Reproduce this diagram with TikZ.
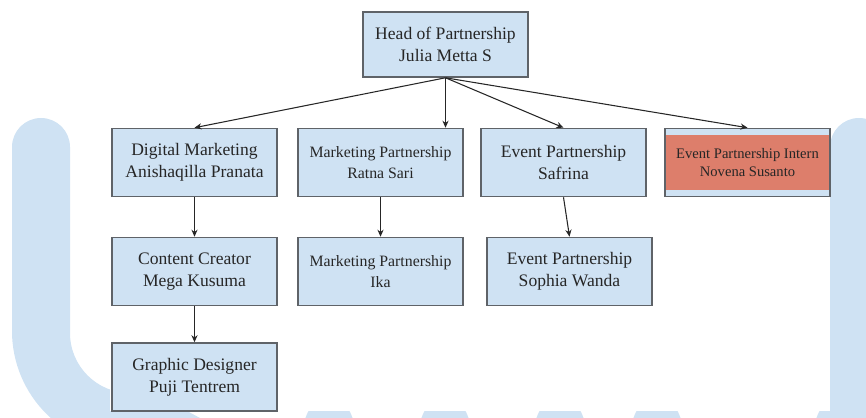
\documentclass[tikz,border=0pt]{standalone}
\usepackage{fontspec}
\setmainfont{Liberation Serif}
\usetikzlibrary{arrows.meta}
\definecolor{boxblue}{HTML}{CFE2F3}
\definecolor{berry}{HTML}{DD7E6B}
\definecolor{edge}{HTML}{5F6368}

\begin{document}
\begin{tikzpicture}[x=0.02cm, y=-0.02cm,
        box/.style={draw=edge, line width=0.9pt, fill=boxblue, minimum width=3.3cm,
            minimum height=1.36cm, inner sep=0pt, align=center, text=black!85,
            font=\fontsize{10}{12.5}\selectfont},
        small/.style={font=\fontsize{9}{11.5}\selectfont},
        link/.style={-{Stealth[length=4pt,width=3.5pt]}, line width=0.6pt, black!85}]
\clip (0,0) rectangle (866,418);

\fill[boxblue] (12,147) arc[start angle=180,end angle=360,radius=29] -- (70,333)
    arc[start angle=180,end angle=90,radius=60] -- (187,393) -- (187,411)
    -- (200,418) -- (200,448) -- (129,448)
    arc[start angle=90,end angle=180,radius=117] -- cycle;
\fill[boxblue] (830,147) arc[start angle=180,end angle=360,radius=29]
    -- (888,440) -- (830,440) -- cycle;
\foreach \x in {329,445,560,657,840}
    \fill[boxblue] (\x,445) ellipse [x radius=28, y radius=50];
\fill[white] (110,0) rectangle (830,411);

\node[box, minimum height=1.3cm] (head) at (445.5,44.5) {Head of Partnership\\Julia Metta S};
\node[box] (digital) at (194.5,162.5) {Digital Marketing\\Anishaqilla Pranata};
\node[box,small] (ratna) at (380.5,162.5) {Marketing Partnership\\Ratna Sari};
\node[box] (safrina) at (563.5,162.5) {Event Partnership\\Safrina};
\node[box, font=\fontsize{8.3}{10}\selectfont,
    path picture={\fill[berry] ([shift={(-90,-27.5)}]path picture bounding box.center)
        rectangle ([shift={(90,27.5)}]path picture bounding box.center);}]
    (intern) at (747.5,162.5) {Event Partnership Intern\\Novena Susanto};
\node[box] (content) at (194.5,271.5) {Content Creator\\Mega Kusuma};
\node[box,small] (ika) at (380.5,271.5) {Marketing Partnership\\Ika};
\node[box] (sophia) at (569.5,271.5) {Event Partnership\\Sophia Wanda};
\node[box] (graphic) at (194.5,377) {Graphic Designer\\Puji Tentrem};

\draw[link] (head.south) -- (digital.north);
\draw[link] (head.south) -- (ratna.north -| head.south);
\draw[link] (head.south) -- (safrina.north);
\draw[link] (head.south) -- (intern.north);
\draw[link] (digital.south) -- (content.north);
\draw[link] (content.south) -- (graphic.north);
\draw[link] (ratna.south) -- (ika.north);
\draw[link] (safrina.south) -- (sophia.north);

\end{tikzpicture}
\end{document}
